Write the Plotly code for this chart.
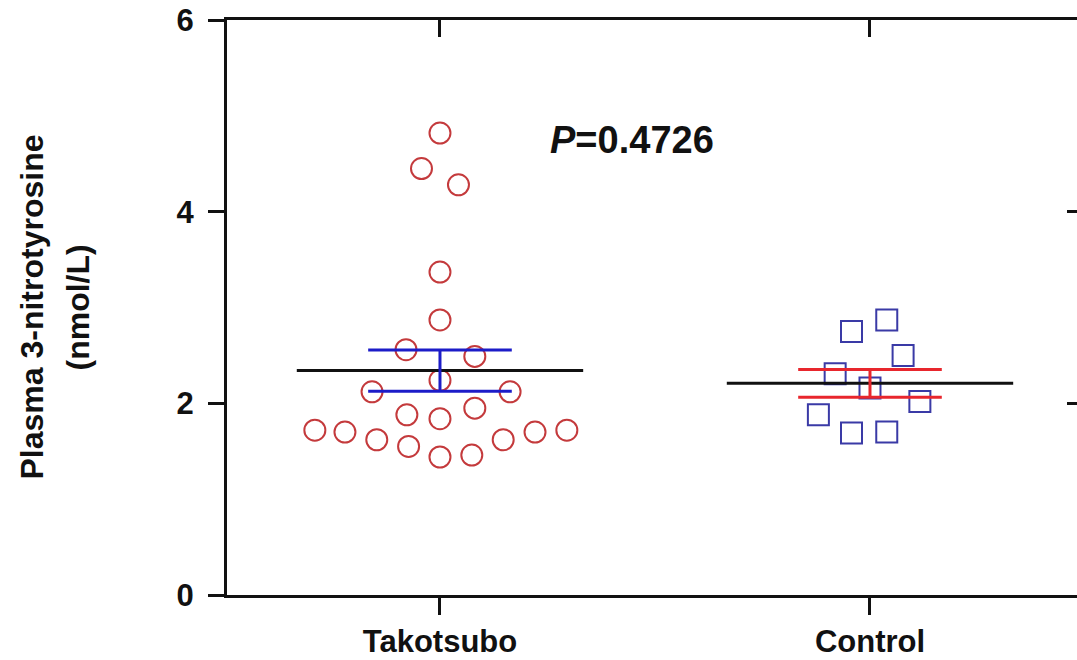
import numpy as np
import plotly.graph_objects as go

# ---- data ----
categories = ["Takotsubo", "Control"]
takotsubo_values = [4.82, 4.45, 4.28, 3.37, 2.87, 2.56, 2.49, 2.24, 2.12, 2.12, 1.88,
                    1.84, 1.95, 1.72, 1.70, 1.62, 1.55, 1.44, 1.46, 1.62, 1.70, 1.72]
control_values = [2.75, 2.87, 2.50, 2.31, 2.16, 2.02, 1.88, 1.69, 1.70]
p_value_text = "P=0.4726"
y_ticks = [0, 2, 4, 6]

# scatter-dot horizontal spread (category units) as drawn in the reference
takotsubo_spread = [0, -0.043, 0.043, 0, 0, -0.079, 0.081, 0, -0.158, 0.163, -0.077,
                    0, 0.081, -0.291, -0.221, -0.147, -0.073, 0, 0.074, 0.147, 0.221, 0.295]
control_spread = [-0.043, 0.039, 0.077, -0.081, 0, 0.116, -0.12, -0.043, 0.039]

FONT = "Liberation Sans, Arial, Helvetica, sans-serif"
MEAN_HALF = 0.333
SEM_HALF = 0.167

fig = go.Figure()

groups = [
    (0, takotsubo_values, takotsubo_spread, "circle-open", "#c43a3c", "#1c1cc8"),
    (1, control_values, control_spread, "square-open", "#3a3aa6", "#e8262d"),
]

for pos, vals, spread, sym, mcol, semcol in groups:
    fig.add_trace(go.Scatter(
        x=[pos + s for s in spread], y=vals, mode="markers",
        marker=dict(symbol=sym, size=21, color=mcol, line=dict(width=2, color=mcol)),
        showlegend=False, hoverinfo="skip"))

for pos, vals, spread, sym, mcol, semcol in groups:
    arr = np.array(vals)
    mean = arr.mean()
    sem = arr.std(ddof=1) / np.sqrt(len(arr))
    # mean line
    fig.add_trace(go.Scatter(
        x=[pos - MEAN_HALF, pos + MEAN_HALF], y=[mean, mean], mode="lines",
        line=dict(color="#111111", width=3), showlegend=False, hoverinfo="skip"))
    # SEM bars
    fig.add_trace(go.Scatter(
        x=[pos - SEM_HALF, pos + SEM_HALF, None, pos - SEM_HALF, pos + SEM_HALF, None, pos, pos],
        y=[mean + sem, mean + sem, None, mean - sem, mean - sem, None, mean - sem, mean + sem],
        mode="lines", line=dict(color=semcol, width=3), showlegend=False, hoverinfo="skip"))

# dummy trace so the top/right mirror axes render
fig.add_trace(go.Scatter(x=[None], y=[None], xaxis="x2", yaxis="y2",
                         showlegend=False, hoverinfo="skip"))

xr = [-0.4953, 1.4814]
yr = [0, 6]

fig.update_layout(
    width=1077, height=660,
    margin=dict(l=227, r=0, t=20, b=65, autoexpand=False),
    paper_bgcolor="white", plot_bgcolor="white",
    font=dict(family=FONT, color="#111111"),
    xaxis=dict(range=xr, tickvals=[0, 1], ticktext=categories, automargin=False,
               ticks="outside", ticklen=17, tickwidth=3, tickcolor="#111111",
               showline=True, linewidth=3, linecolor="#111111",
               showgrid=False, zeroline=False,
               tickfont=dict(size=31, family=FONT, weight="bold", color="#111111"),
               ticklabelstandoff=0),
    xaxis2=dict(range=xr, overlaying="x", side="top", anchor="y2", automargin=False,
                tickvals=[0, 1], ticks="inside", ticklen=17, tickwidth=3,
                tickcolor="#111111", showticklabels=False,
                showline=True, linewidth=3, linecolor="#111111",
                showgrid=False, zeroline=False),
    yaxis=dict(range=yr, tickvals=y_ticks, automargin=False,
               ticks="outside", ticklen=16, tickwidth=3, tickcolor="#111111",
               showline=True, linewidth=3, linecolor="#111111",
               showgrid=False, zeroline=False,
               tickfont=dict(size=31, family=FONT, weight="bold", color="#111111"),
               ticklabelstandoff=8),
    yaxis2=dict(range=yr, overlaying="y", side="right", anchor="x2", automargin=False,
                tickvals=[2, 4], ticks="inside", ticklen=10, tickwidth=3,
                tickcolor="#111111", showticklabels=False, showline=False,
                showgrid=False, zeroline=False),
    annotations=[
        dict(text="<i>P</i>" + p_value_text[1:], x=0.447, y=4.75, xref="x", yref="y",
             showarrow=False, xanchor="center", yanchor="middle",
             font=dict(size=38, family=FONT, weight="bold", color="#111111")),
        dict(text="Plasma 3-nitrotyrosine", x=0, y=0.5, xref="paper", yref="paper",
             xshift=-196, textangle=-90, showarrow=False, xanchor="center", yanchor="middle",
             font=dict(size=32, family=FONT, weight="bold", color="#111111")),
        dict(text="(nmol/L)", x=0, y=0.5, xref="paper", yref="paper",
             xshift=-150, textangle=-90, showarrow=False, xanchor="center", yanchor="middle",
             font=dict(size=32, family=FONT, weight="bold", color="#111111")),
    ],
)

fig.write_html("out.html")
